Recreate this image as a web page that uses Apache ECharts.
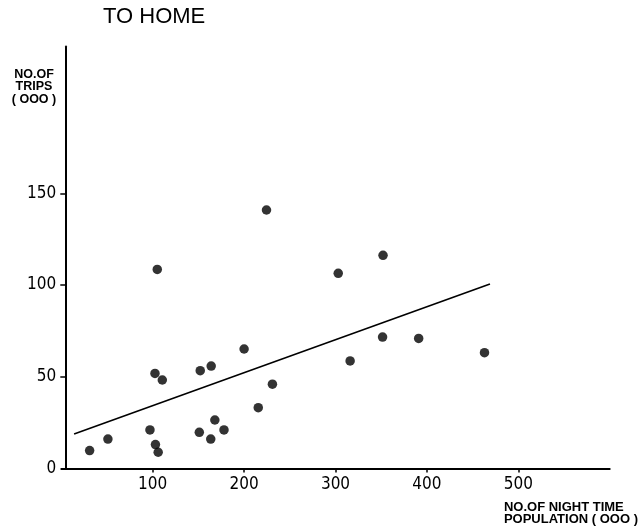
<!DOCTYPE html>
<html>
<head>
<meta charset="utf-8">
<script src="https://cdn.jsdelivr.net/npm/echarts@6/dist/echarts.min.js"></script>
<style>
  html, body { margin: 0; padding: 0; background: #fff; }
  #chart { width: 642px; height: 531px; }
</style>
</head>
<body>
<div id="chart"></div>
<script>
// Night-time population (000) vs. number of trips to home (000)
const populationX = [31, 51, 97, 103, 106, 105, 102.5, 110.5, 152, 164, 151, 163.5, 168, 178, 200, 215.5, 231, 224.5, 303, 352, 351.5, 391, 316, 463];
const tripsY      = [9.7, 16, 21, 13, 8.8, 108.5, 51.8, 48.2, 53.3, 55.8, 19.7, 16, 26.4, 21, 65.1, 33.1, 45.9, 140.9, 106.4, 116.2, 71.6, 70.9, 58.6, 63.1];

// Fitted regression line end points
const trendX = [14, 469];
const trendY = [18.8, 100.5];

const xTicks = [100, 200, 300, 400, 500];
const yTicks = [0, 50, 100, 150];

const narrow = "'Liberation Sans Narrow', 'DejaVu Sans Condensed', 'Arial Narrow', sans-serif";
const sans = "'Liberation Sans', Arial, sans-serif";
const ink = '#000';

const chart = echarts.init(document.getElementById('chart'), null, { renderer: 'canvas' });

chart.setOption({
  backgroundColor: '#ffffff',
  animation: false,
  grid: { left: 61.3, right: 32.3, top: 46.6, bottom: 62.6, containLabel: false },
  xAxis: {
    type: 'value',
    min: 0,
    max: 600,
    interval: 100,
    splitLine: { show: false },
    axisLine: { show: true, lineStyle: { color: ink, width: 2 } },
    axisTick: { show: true, length: 4, customValues: xTicks, lineStyle: { color: ink, width: 1.5 } },
    axisLabel: {
      color: ink,
      fontFamily: narrow,
      fontSize: 17,
      margin: 8,
      customValues: xTicks
    }
  },
  yAxis: {
    type: 'value',
    min: 0,
    max: 230,
    interval: 50,
    offset: -4,
    splitLine: { show: false },
    axisLine: { show: true, lineStyle: { color: ink, width: 2 } },
    axisTick: { show: true, length: 5, customValues: [50, 100, 150], lineStyle: { color: ink, width: 1.5 } },
    axisLabel: {
      color: ink,
      fontFamily: narrow,
      fontSize: 17,
      margin: 9,
      customValues: yTicks
    }
  },
  graphic: [
    {
      type: 'text', left: 103, top: 6,
      style: { text: 'TO HOME', fill: ink, font: '22px ' + sans }
    },
    {
      type: 'text', x: 34, y: 68,
      style: {
        text: 'NO.OF\nTRIPS\n( OOO )',
        fill: ink, font: 'bold 12.5px ' + sans, lineHeight: 12.5,
        align: 'center', verticalAlign: 'top'
      }
    },
    {
      type: 'text', right: 4, top: 501,
      style: {
        text: 'NO.OF NIGHT TIME\nPOPULATION ( OOO )',
        fill: ink, font: 'bold 13px ' + sans, lineHeight: 12, align: 'right'
      }
    }
  ],
  series: [
    {
      type: 'line',
      data: trendX.map((x, i) => [x, trendY[i]]),
      symbol: 'none',
      lineStyle: { color: ink, width: 1.6 },
      z: 2
    },
    {
      type: 'scatter',
      data: populationX.map((x, i) => [x, tripsY[i]]),
      symbol: 'circle',
      symbolSize: 9.5,
      itemStyle: { color: ink },
      z: 3
    }
  ]
});
</script>
</body>
</html>
